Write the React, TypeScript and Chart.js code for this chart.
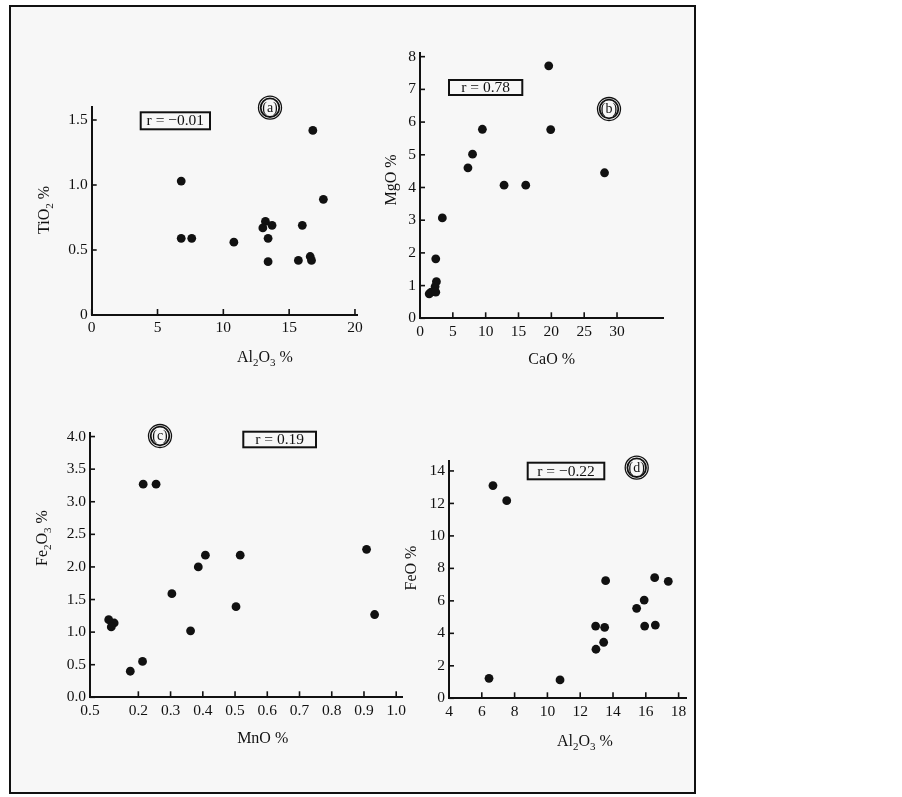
import React, { useEffect, useRef } from "react";
import { Chart, registerables } from "chart.js";

Chart.register(...registerables);

// ---------- DATA ----------
// (a) TiO2 vs Al2O3
const al2o3A = [6.8, 6.8, 7.6, 10.8, 13.2, 13.0, 13.7, 13.4, 13.4, 15.7, 16.0, 16.6, 16.7, 16.8, 17.6];
const tio2 = [1.03, 0.59, 0.59, 0.56, 0.72, 0.67, 0.69, 0.59, 0.41, 0.42, 0.69, 0.45, 0.42, 1.42, 0.89];
// (b) MgO vs CaO
const cao = [19.6, 9.5, 19.9, 8.0, 7.3, 12.8, 16.1, 28.1, 3.4, 2.4, 2.5, 2.3, 1.7, 1.4, 2.4];
const mgo = [7.72, 5.78, 5.77, 5.02, 4.6, 4.07, 4.07, 4.45, 3.07, 1.82, 1.12, 0.97, 0.8, 0.75, 0.8];
// (c) Fe2O3 vs MnO
const mno = [0.215, 0.255, 0.108, 0.125, 0.116, 0.175, 0.213, 0.304, 0.362, 0.386, 0.408, 0.503, 0.516, 0.908, 0.933];
const fe2o3 = [3.27, 3.27, 1.19, 1.14, 1.08, 0.4, 0.55, 1.59, 1.02, 2.0, 2.18, 1.39, 2.18, 2.27, 1.27];
// (d) FeO vs Al2O3
const al2o3D = [6.44, 6.68, 7.52, 10.77, 12.94, 12.96, 13.43, 13.49, 13.55, 15.44, 15.9, 15.93, 16.54, 16.58, 17.37];
const feo = [1.23, 13.1, 12.17, 1.13, 4.45, 3.02, 3.45, 4.37, 7.24, 5.54, 6.05, 4.45, 7.43, 4.51, 7.2];

// tick values and labels
const ticksAx = [0, 5, 10, 15, 20];
const labelsAx = ["0", "5", "10", "15", "20"];
const ticksAy = [0, 0.5, 1.0, 1.5];
const labelsAy = ["0", "0.5", "1.0", "1.5"];
const ticksBx = [0, 5, 10, 15, 20, 25, 30];
const labelsBx = ["0", "5", "10", "15", "20", "25", "30"];
const ticksBy = [0, 1, 2, 3, 4, 5, 6, 7, 8];
const labelsBy = ["0", "1", "2", "3", "4", "5", "6", "7", "8"];
const ticksCx = [0.05, 0.2, 0.3, 0.4, 0.5, 0.6, 0.7, 0.8, 0.9, 1.0];
const labelsCx = ["0.5", "0.2", "0.3", "0.4", "0.5", "0.6", "0.7", "0.8", "0.9", "1.0"];
const ticksCy = [0, 0.5, 1.0, 1.5, 2.0, 2.5, 3.0, 3.5, 4.0];
const labelsCy = ["0.0", "0.5", "1.0", "1.5", "2.0", "2.5", "3.0", "3.5", "4.0"];
const ticksDx = [4, 6, 8, 10, 12, 14, 16, 18];
const labelsDx = ["4", "6", "8", "10", "12", "14", "16", "18"];
const ticksDy = [0, 2, 4, 6, 8, 10, 12, 14];
const labelsDy = ["0", "2", "4", "6", "8", "10", "12", "14"];

const rLabels = ["r = \u22120.01", "r = 0.78", "r = 0.19", "r = \u22120.22"];
const panelLetters = ["a", "b", "c", "d"];

type Part = { t: string; sub?: boolean };
const titleAx: Part[] = [{ t: "Al" }, { t: "2", sub: true }, { t: "O" }, { t: "3", sub: true }, { t: " %" }];
const titleAy: Part[] = [{ t: "TiO" }, { t: "2", sub: true }, { t: " %" }];
const titleBx: Part[] = [{ t: "CaO %" }];
const titleBy: Part[] = [{ t: "MgO %" }];
const titleCx: Part[] = [{ t: "MnO %" }];
const titleCy: Part[] = [{ t: "Fe" }, { t: "2", sub: true }, { t: "O" }, { t: "3", sub: true }, { t: " %" }];
const titleDx: Part[] = [{ t: "Al" }, { t: "2", sub: true }, { t: "O" }, { t: "3", sub: true }, { t: " %" }];
const titleDy: Part[] = [{ t: "FeO %" }];

// ---------- STYLE / LAYOUT ----------
const SERIF = '"Liberation Serif", "Times New Roman", "DejaVu Serif", serif';
const INK = "#111";

type PanelCfg = {
  xs: number[]; ys: number[];
  xMin: number; xMax: number; yMin: number; yMax: number;
  xTicks: number[]; xLabels: string[]; yTicks: number[]; yLabels: string[];
  xTitle: Part[]; yTitle: Part[];
  r: string; letter: string;
  canvas: [number, number, number, number]; // left, top, width, height (page)
  area: [number, number, number, number]; // left, top, right, bottom (page)
  xTitlePos: [number, number]; yTitlePos: [number, number];
  rBox: [number, number, number, number]; // l, t, r, b (page)
  circ: [number, number];
};

const panels: PanelCfg[] = [
  {
    xs: al2o3A, ys: tio2, xMin: 0, xMax: 20.2, yMin: 0, yMax: 1.6,
    xTicks: ticksAx, xLabels: labelsAx, yTicks: ticksAy, yLabels: labelsAy,
    xTitle: titleAx, yTitle: titleAy, r: rLabels[0], letter: panelLetters[0],
    canvas: [15, 90, 355, 290], area: [91.7, 107, 357.6, 315],
    xTitlePos: [265, 358], yTitlePos: [45, 210],
    rBox: [140.7, 112.3, 210, 129.3], circ: [270, 107.7],
  },
  {
    xs: cao, ys: mgo, xMin: 0, xMax: 37, yMin: 0, yMax: 8.1,
    xTicks: ticksBx, xLabels: labelsBx, yTicks: ticksBy, yLabels: labelsBy,
    xTitle: titleBx, yTitle: titleBy, r: rLabels[1], letter: panelLetters[1],
    canvas: [375, 40, 300, 340], area: [420, 53.4, 663, 318.3],
    xTitlePos: [551.7, 360], yTitlePos: [391.7, 180],
    rBox: [449, 80, 522.3, 95], circ: [609, 109],
  },
  {
    xs: mno, ys: fe2o3, xMin: 0.05, xMax: 1.02, yMin: 0, yMax: 4.05,
    xTicks: ticksCx, xLabels: labelsCx, yTicks: ticksCy, yLabels: labelsCy,
    xTitle: titleCx, yTitle: titleCy, r: rLabels[2], letter: panelLetters[2],
    canvas: [15, 420, 395, 340], area: [90, 432.8, 405.3, 697.3],
    xTitlePos: [262.7, 738.3], yTitlePos: [42.7, 538],
    rBox: [243.3, 431.7, 316, 447.3], circ: [160, 436],
  },
  {
    xs: al2o3D, ys: feo, xMin: 4, xMax: 18.45, yMin: 0, yMax: 14.6,
    xTicks: ticksDx, xLabels: labelsDx, yTicks: ticksDy, yLabels: labelsDy,
    xTitle: titleDx, yTitle: titleDy, r: rLabels[3], letter: panelLetters[3],
    canvas: [398, 440, 294, 330], area: [449, 461.2, 686, 698.3],
    xTitlePos: [585, 741.7], yTitlePos: [411.7, 568],
    rBox: [527.7, 462.7, 604.3, 479.3], circ: [636.7, 467.7],
  },
];

function drawRich(ctx: CanvasRenderingContext2D, parts: Part[], cx: number, cy: number, size: number, rot: number) {
  ctx.save();
  ctx.translate(cx, cy);
  ctx.rotate(rot);
  const subSize = Math.round(size * 0.66);
  let total = 0;
  const widths = parts.map((p) => {
    ctx.font = `${p.sub ? subSize : size}px ${SERIF}`;
    const w = ctx.measureText(p.t).width;
    total += w;
    return w;
  });
  let x = -total / 2;
  ctx.textBaseline = "middle";
  ctx.textAlign = "left";
  ctx.fillStyle = INK;
  parts.forEach((p, i) => {
    ctx.font = `${p.sub ? subSize : size}px ${SERIF}`;
    ctx.fillText(p.t, x, p.sub ? size * 0.32 : 0);
    x += widths[i];
  });
  ctx.restore();
}

function makeDeco(cfg: PanelCfg) {
  const ox = cfg.canvas[0];
  const oy = cfg.canvas[1];
  return {
    id: "deco",
    afterDraw(chart: any) {
      const ctx: CanvasRenderingContext2D = chart.ctx;
      const xs = chart.scales.x;
      const ys = chart.scales.y;
      const area = chart.chartArea;
      ctx.save();
      ctx.strokeStyle = INK;
      ctx.lineWidth = 1.6;
      xs.ticks.forEach((t: any) => {
        const px = xs.getPixelForValue(t.value);
        ctx.beginPath();
        ctx.moveTo(px, area.bottom);
        ctx.lineTo(px, area.bottom - 6);
        ctx.stroke();
      });
      ys.ticks.forEach((t: any) => {
        const py = ys.getPixelForValue(t.value);
        ctx.beginPath();
        ctx.moveTo(area.left, py);
        ctx.lineTo(area.left + 5, py);
        ctx.stroke();
      });
      // titles
      drawRich(ctx, cfg.xTitle, cfg.xTitlePos[0] - ox, cfg.xTitlePos[1] - oy, 16, 0);
      drawRich(ctx, cfg.yTitle, cfg.yTitlePos[0] - ox, cfg.yTitlePos[1] - oy, 16, -Math.PI / 2);
      // r box
      const [l, t, r, b] = cfg.rBox;
      ctx.lineWidth = 2;
      ctx.strokeRect(l - ox, t - oy, r - l, b - t);
      ctx.font = `15.5px ${SERIF}`;
      ctx.fillStyle = INK;
      ctx.textAlign = "center";
      ctx.textBaseline = "middle";
      const tw = ctx.measureText(cfg.r).width;
      const target = r - l - 8;
      const sx = Math.min(1, target / tw);
      ctx.save();
      ctx.translate((l + r) / 2 - ox, (t + b) / 2 - oy + 0.5);
      ctx.scale(sx, 1);
      ctx.fillText(cfg.r, 0, 0);
      ctx.restore();
      // circled letter
      const cx = cfg.circ[0] - ox;
      const cy = cfg.circ[1] - oy;
      ctx.lineWidth = 1.3;
      ctx.beginPath();
      ctx.arc(cx, cy, 11.5, 0, Math.PI * 2);
      ctx.stroke();
      ctx.lineWidth = 1.8;
      ctx.beginPath();
      ctx.arc(cx, cy, 9.3, 0, Math.PI * 2);
      ctx.stroke();
      ctx.font = `14px ${SERIF}`;
      ctx.fillText(`(${cfg.letter})`, cx, cy + 0.5);
      ctx.restore();
    },
  };
}

function Panel({ cfg }: { cfg: PanelCfg }) {
  const ref = useRef<HTMLCanvasElement | null>(null);
  useEffect(() => {
    if (!ref.current) return;
    const [cl, ct, cw, ch] = cfg.canvas;
    const [al, at, ar, ab] = cfg.area;
    const tickFont = { family: SERIF, size: 15.5 };
    const chart = new Chart(ref.current, {
      type: "scatter",
      data: {
        datasets: [
          {
            data: cfg.xs.map((x, i) => ({ x, y: cfg.ys[i] })),
            backgroundColor: INK,
            borderWidth: 0,
            pointRadius: 4.4,
            pointHoverRadius: 4.4,
          },
        ],
      },
      options: {
        responsive: false,
        animation: false,
        events: [],
        layout: { padding: { left: 0, top: at - ct, right: cl + cw - ar, bottom: 0 } },
        plugins: { legend: { display: false }, tooltip: { enabled: false } },
        scales: {
          x: {
            type: "linear",
            min: cfg.xMin,
            max: cfg.xMax,
            afterBuildTicks: (s: any) => {
              s.ticks = cfg.xTicks.map((v) => ({ value: v }));
            },
            afterFit: (s: any) => {
              s.height = ct + ch - ab;
            },
            ticks: {
              autoSkip: false,
              maxRotation: 0,
              padding: 4,
              color: INK,
              font: tickFont,
              callback: (_v: any, i: number) => cfg.xLabels[i],
            },
            grid: { display: false, drawTicks: false },
            border: { display: true, color: INK, width: 2 },
          },
          y: {
            type: "linear",
            min: cfg.yMin,
            max: cfg.yMax,
            afterBuildTicks: (s: any) => {
              s.ticks = cfg.yTicks.map((v) => ({ value: v }));
            },
            afterFit: (s: any) => {
              s.width = al - cl;
            },
            ticks: {
              autoSkip: false,
              padding: 4,
              color: INK,
              font: tickFont,
              callback: (_v: any, i: number) => cfg.yLabels[i],
            },
            grid: { display: false, drawTicks: false },
            border: { display: true, color: INK, width: 2 },
          },
        },
      },
      plugins: [makeDeco(cfg)],
    } as any);
    return () => chart.destroy();
  }, [cfg]);
  const [l, t, w, h] = cfg.canvas;
  return (
    <canvas
      ref={ref}
      width={w}
      height={h}
      style={{ position: "absolute", left: l, top: t, width: w, height: h }}
    />
  );
}

export default function App() {
  return (
    <div style={{ position: "absolute", left: 0, top: 0, width: 902, height: 797, background: "#fff" }}>
      <div
        style={{
          position: "absolute",
          left: 9,
          top: 5,
          width: 687,
          height: 789,
          boxSizing: "border-box",
          border: "2px solid #111",
          background: "#f7f7f7",
        }}
      />
      {panels.map((p, i) => (
        <Panel key={i} cfg={p} />
      ))}
    </div>
  );
}
